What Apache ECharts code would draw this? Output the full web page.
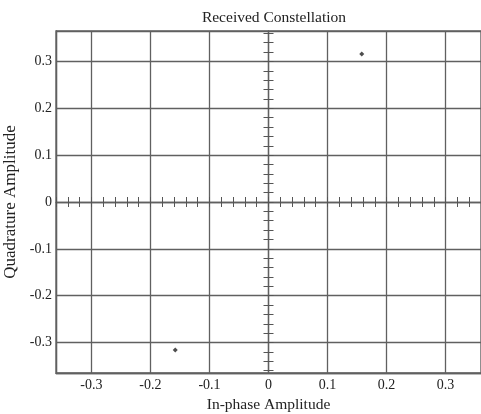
<!DOCTYPE html>
<html>
<head>
<meta charset="utf-8">
<script src="https://cdn.jsdelivr.net/npm/echarts@6/dist/echarts.min.js"></script>
<style>
  html, body { margin: 0; padding: 0; background: #fff; }
  #chart { width: 481px; height: 414px; }
</style>
</head>
<body>
<div id="chart"></div>
<script>
  // received symbols (in-phase / quadrature)
  const symbolI = [0.158, -0.158];
  const symbolQ = [0.316, -0.316];

  // axis limits and ticks
  const xLimits = [-0.36, 0.36];
  const yLimits = [-0.365, 0.365];
  const minorStep = 0.02;

  let chart = echarts.init(document.getElementById('chart'));

  // small ticks along the centre cross, every 0.02
  function minorTicks(lim) {
    let out = [];
    let start = Math.ceil(lim[0] / minorStep - 1e-9);
    let end = Math.floor(lim[1] / minorStep + 1e-9);
    for (let k = start; k <= end; k++) out.push(Math.round(k * minorStep * 100) / 100);
    return out;
  }
  const xMinor = minorTicks(xLimits);
  const yMinor = minorTicks(yLimits);

  const lineGray = '#606060';
  const font = 'Liberation Serif';
  const rect = { left: 56, right: 0, top: 31, bottom: 41, outerBoundsMode: 'none', containLabel: false };

  function crossAxis(grid, inside, lim, ticks) {
    return {
      type: 'value',
      gridIndex: grid,
      min: lim[0],
      max: lim[1],
      axisLine: { show: !inside, onZero: true, lineStyle: { color: lineGray, width: 1.3 } },
      axisTick: { show: true, inside: inside, length: 5, customValues: ticks,
                  lineStyle: { color: '#555', width: 1 } },
      axisLabel: { show: false },
      splitLine: { show: false }
    };
  }

  let points = symbolI.map((v, i) => [v, symbolQ[i]]);

  let option = {
    animation: false,
    title: {
      text: 'Received Constellation',
      left: 269, top: 5, textAlign: 'center',
      textStyle: { fontFamily: font, fontSize: 15.5, fontWeight: 'normal', color: '#222' }
    },
    grid: [
      Object.assign({ show: true, borderColor: lineGray, borderWidth: 1.3, backgroundColor: 'transparent' }, rect),
      Object.assign({ show: false }, rect),
      Object.assign({ show: false }, rect)
    ],
    xAxis: [
      {
        type: 'value',
        gridIndex: 0,
        min: xLimits[0], max: xLimits[1],
        splitNumber: 7,
        name: 'In-phase Amplitude',
        nameLocation: 'middle',
        nameGap: 24,
        nameTextStyle: { fontFamily: font, fontSize: 15.5, color: '#222' },
        axisLine: { onZero: false, lineStyle: { color: lineGray, width: 1.3 } },
        axisTick: { show: false },
        axisLabel: { fontFamily: font, fontSize: 14, color: '#222', margin: 5,
                     showMinLabel: false, showMaxLabel: false },
        splitLine: { show: true, lineStyle: { color: lineGray, width: 1.3 } }
      },
      crossAxis(1, false, xLimits, xMinor),
      crossAxis(2, true, xLimits, xMinor)
    ],
    yAxis: [
      {
        type: 'value',
        gridIndex: 0,
        min: yLimits[0], max: yLimits[1],
        splitNumber: 7,
        name: 'Quadrature Amplitude',
        nameLocation: 'middle',
        nameGap: 36,
        nameTextStyle: { fontFamily: font, fontSize: 17, color: '#222' },
        axisLine: { onZero: false, lineStyle: { color: lineGray, width: 1.3 } },
        axisTick: { show: false },
        axisLabel: { fontFamily: font, fontSize: 14, color: '#222', margin: 4,
                     showMinLabel: false, showMaxLabel: false },
        splitLine: { show: true, lineStyle: { color: lineGray, width: 1.3 } }
      },
      crossAxis(1, false, yLimits, yMinor),
      crossAxis(2, true, yLimits, yMinor)
    ],
    series: [
      {
        type: 'scatter',
        xAxisIndex: 0,
        yAxisIndex: 0,
        symbol: 'diamond',
        symbolSize: 5,
        itemStyle: { color: '#222' },
        data: points
      }
    ]
  };

  chart.setOption(option);
</script>
</body>
</html>
